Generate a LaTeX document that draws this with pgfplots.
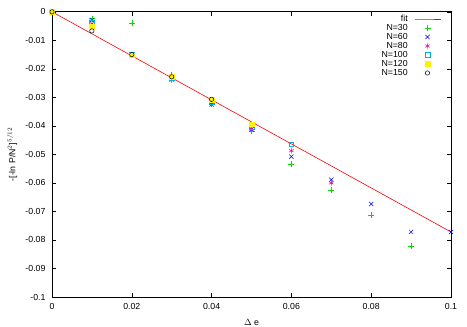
\documentclass[border=0pt]{standalone}
\usepackage{pgfplots}
\pgfplotsset{compat=1.18}
\usepackage{fontspec}
\setmainfont{Liberation Sans}
\begin{document}
\begin{tikzpicture}
\useasboundingbox (-52bp,-30bp) rectangle (415bp,297bp);
\begin{axis}[
  scale only axis,
  width=399bp, height=285.2bp,
  xmin=0, xmax=0.1, ymin=-0.1, ymax=0,
  xtick={0,0.02,0.04,0.06,0.08,0.1},
  ytick={0,-0.01,-0.02,-0.03,-0.04,-0.05,-0.06,-0.07,-0.08,-0.09,-0.1},
  tick align=inside,
  major tick length=4bp,
  tick style={black, line width=0.5pt},
  axis line style={black, line width=0.6pt},
  font=\fontsize{8.8}{10}\selectfont,
  /pgf/number format/assume math mode=true,
  /pgf/number format/fixed,
  /pgf/number format/precision=2,
  scaled ticks=false,
  xticklabel style={yshift=-3bp},
  yticklabel style={xshift=-3bp},
  xlabel={$\Delta$ e},
  xlabel style={at={(axis description cs:0.5,-0.0877)}, anchor=center},
  ylabel={-[-ln P/N$^2$]$^{5/12}$},
  ylabel style={at={(axis description cs:-0.1,0.5)}, anchor=center},
  legend plot pos=right,
  legend cell align=right,
  legend style={at={(rel axis cs:1,1)}, anchor=north east, xshift=-10bp, yshift=-3bp,
    draw=none, fill=none, inner sep=0pt, column sep=6bp, row sep=1bp,
    nodes={inner sep=0.5bp, text height=6bp, text depth=1bp},
    font=\fontsize{8.8}{10}\selectfont},
  legend image code/.code={\draw[mark repeat=2,mark phase=2,#1] plot coordinates {(0bp,0bp)(13bp,0bp)(26bp,0bp)};},
]
\addplot[color=red, line width=0.6pt, no marks] coordinates {(0,0) (0.1,-0.0772)};
\addlegendentry{fit}
\addplot[only marks, mark=+, mark size=3bp, color={rgb,255:red,0;green,220;blue,0}, line width=0.5pt] coordinates {
(0,0) (0.01,-0.0024) (0.02,-0.0040) (0.03,-0.0222) (0.04,-0.0322) (0.05,-0.0418)
(0.06,-0.0534) (0.07,-0.0624) (0.08,-0.0714) (0.09,-0.0821)};
\addlegendentry{N=30}
\addplot[only marks, mark=x, mark size=3bp, color=blue, line width=0.5pt] coordinates {
(0,0) (0.01,-0.0029) (0.02,-0.0150) (0.03,-0.0235) (0.04,-0.0325) (0.05,-0.0412)
(0.06,-0.0508) (0.07,-0.0589) (0.08,-0.0674) (0.09,-0.0772) (0.1,-0.0772)};
\addlegendentry{N=60}
\addplot[only marks, mark=asterisk, mark size=2.6bp, color=magenta, line width=0.5pt] coordinates {
(0,0) (0.01,-0.0042) (0.02,-0.0152) (0.03,-0.0240) (0.04,-0.0320) (0.05,-0.0410)
(0.06,-0.0487) (0.07,-0.0600)};
\addlegendentry{N=80}
\addplot[only marks, mark=square, mark size=2.3bp, color=cyan, line width=0.5pt] coordinates {
(0,0) (0.01,-0.0036) (0.02,-0.0151) (0.03,-0.0232) (0.04,-0.0315) (0.05,-0.0405)
(0.06,-0.0465)};
\addlegendentry{N=100}
\addplot[only marks, mark=square*, mark size=2.3bp, color=yellow, line width=0.5pt] coordinates {
(0,0) (0.01,-0.0053) (0.02,-0.0152) (0.03,-0.0228) (0.04,-0.0308) (0.05,-0.0394)};
\addlegendentry{N=120}
\addplot[only marks, mark=o, mark size=2.2bp, color=black, line width=0.5pt] coordinates {
(0,0) (0.01,-0.0067) (0.02,-0.0150) (0.03,-0.0228) (0.04,-0.0307)};
\addlegendentry{N=150}
\end{axis}
\end{tikzpicture}
\end{document}
